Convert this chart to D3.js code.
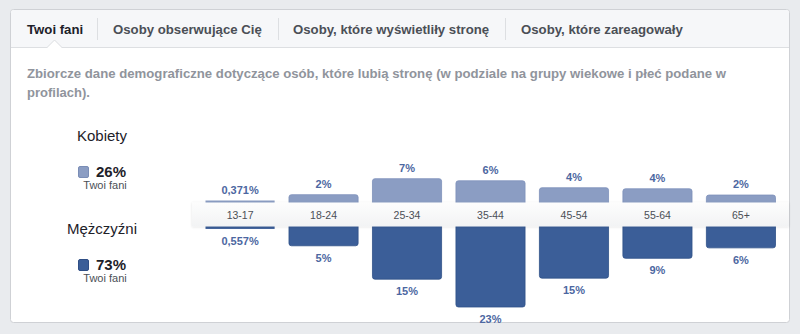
<!DOCTYPE html>
<html><head><meta charset="utf-8">
<script src="https://cdn.jsdelivr.net/npm/d3@7"></script>
<style>html,body{margin:0;padding:0;background:#e9ebee;}svg{display:block;font-family:"Liberation Sans",Arial,Helvetica,sans-serif;}</style>
</head><body><svg id="c" width="800" height="334"></svg>
<script>
const tabs = ["Twoi fani", "Osoby obserwujące Cię", "Osoby, które wyświetliły stronę", "Osoby, które zareagowały"];
const description = ["Zbiorcze dane demograficzne dotyczące osób, które lubią stronę (w podziale na grupy wiekowe i płeć podane w", "profilach)."];
const ageGroups = ["13-17", "18-24", "25-34", "35-44", "45-54", "55-64", "65+"];
const women = [0.371, 2.1, 6.7, 6.1, 4.1, 3.8, 2.0];
const men = [0.557, 5.4, 15.0, 23.0, 14.7, 9.0, 6.0];
const genderNames = ["Kobiety", "Mężczyźni"];
const genderTotals = ["26%", "73%"];
const legendSub = "Twoi fani";

const cWomen = "#8b9dc3", cMen = "#3b5e98", cLabel = "#4c67a1";
const svg = d3.select("#c");

// card
svg.append("rect").attr("x",10.5).attr("y",9.5).attr("width",779).attr("height",313).attr("rx",3)
  .attr("fill","#fff").attr("stroke","#cfd1d5");
svg.append("path").attr("d","M11,47 V12.5 Q11,10 13.5,10 H786.5 Q789,10 789,12.5 V47 Z").attr("fill","#f6f7f9");
svg.append("line").attr("x1",11).attr("x2",789).attr("y1",47.5).attr("y2",47.5).attr("stroke","#dddfe2");
// notch
svg.append("path").attr("d","M47,48 L54.5,40.5 L62,48 Z").attr("fill","#fff");
svg.append("path").attr("d","M47,47.5 L54.5,40 L62,47.5").attr("fill","none").attr("stroke","#dddfe2");

// tabs
const tabX = [27, 113, 293, 521];
const sepX = [97.5, 278.5, 505.5];
tabs.forEach((t,i)=>{
  svg.append("text").attr("x",tabX[i]).attr("y",33.5).text(t)
    .attr("font-size","13.2px").attr("font-weight","bold").attr("fill", i===0?"#1d2129":"#4b4f56");
});
sepX.forEach(x=>svg.append("line").attr("x1",x).attr("x2",x).attr("y1",18).attr("y2",40).attr("stroke","#dddfe2"));

// description
description.forEach((d,i)=>{
  const t = svg.append("text").attr("x",27).attr("y",78+i*18.5).text(d)
    .attr("font-size","13px").attr("font-weight","bold").attr("fill","#90949c");
  if(i===0) t.attr("textLength",699).attr("lengthAdjust","spacingAndGlyphs");
});

// legend
const legY = [0, 93];
genderNames.forEach((g,i)=>{
  const oy = legY[i];
  svg.append("text").attr("x",102).attr("y",141+oy).attr("text-anchor","middle").text(g)
    .attr("font-size","15px").attr("fill","#1d2129");
  svg.append("rect").attr("x",78.5).attr("y",166.5+oy).attr("width",10).attr("height",11).attr("rx",1.5)
    .attr("fill", i===0?cWomen:cMen).attr("stroke", i===0?"#7a8db6":"#2f4e85");
  svg.append("text").attr("x",96).attr("y",176.5+oy).text(genderTotals[i])
    .attr("font-size","15px").attr("font-weight","bold").attr("fill","#1d2129");
  svg.append("text").attr("x",105).attr("y",189+oy).attr("text-anchor","middle").text(legendSub)
    .attr("font-size","11px").attr("fill","#4b4f56");
});

// chart scales
const x = d3.scaleBand().domain(ageGroups).range([205,776]).paddingInner(0.16).paddingOuter(0);
const h = d3.scaleLinear().domain([0,23]).range([0,80]);
const stripTop = 202, stripBot = 227;
const fmt = v => v < 1 ? d3.format(".3f")(v).replace(".",",")+"%" : Math.round(v)+"%";
const vis = v => Math.max(1.5, h(v));

const data = ageGroups.map((a,i)=>({a, w:women[i], m:men[i]}));

// women bars
svg.append("g").selectAll("rect").data(data).join("rect")
  .attr("x",d=>x(d.a)+0.5).attr("width",x.bandwidth()-1)
  .attr("y",d=>stripTop-vis(d.w)).attr("height",d=>vis(d.w)+4).attr("rx",d=>d.w<1?0:2.5)
  .attr("fill",cWomen).attr("stroke",d=>d.w<1?"none":"#7d90ba").attr("stroke-width",0.8);
// men bars
svg.append("g").selectAll("rect").data(data).join("rect")
  .attr("x",d=>x(d.a)+0.5).attr("width",x.bandwidth()-1)
  .attr("y",stripBot-4).attr("height",d=>vis(d.m)+4).attr("rx",d=>d.m<1?0:2.5)
  .attr("fill",cMen).attr("stroke",d=>d.m<1?"none":"#2f5088").attr("stroke-width",0.8);

// strip
const defs = svg.append("defs");
const gr = defs.append("linearGradient").attr("id","sg").attr("x1",0).attr("x2",0).attr("y1",0).attr("y2",1);
gr.append("stop").attr("offset","0%").attr("stop-color","#fdfdfd");
gr.append("stop").attr("offset","100%").attr("stop-color","#f2f3f4");
const flt = defs.append("filter").attr("id","sh").attr("x","-5%").attr("y","-50%").attr("width","110%").attr("height","200%");
flt.append("feDropShadow").attr("dx",0).attr("dy",0.5).attr("stdDeviation",0.8).attr("flood-color","#000").attr("flood-opacity",0.12);
svg.append("rect").attr("x",192).attr("y",stripTop+0.5).attr("width",597).attr("height",stripBot-stripTop-1)
  .attr("fill","url(#sg)").attr("filter","url(#sh)");

// axis labels in strip
const axis = d3.axisBottom(x).tickSize(0).tickPadding(0);
const ag = svg.append("g").attr("transform",`translate(0,${(stripTop+stripBot)/2+4})`).call(axis);
ag.select(".domain").remove();
ag.selectAll("text").attr("dy",0).attr("font-size","10.5px").attr("fill","#4b4f56")
  .attr("font-family","'Liberation Sans',Arial,sans-serif");

// value labels
svg.append("g").selectAll("text").data(data).join("text")
  .attr("x",d=>x(d.a)+x.bandwidth()/2).attr("y",d=>stripTop-vis(d.w)-7)
  .attr("text-anchor","middle").attr("font-size","11px").attr("font-weight","bold").attr("fill",cLabel)
  .text(d=>fmt(d.w));
svg.append("g").selectAll("text").data(data).join("text")
  .attr("x",d=>x(d.a)+x.bandwidth()/2).attr("y",d=>stripBot+vis(d.m)+16)
  .attr("text-anchor","middle").attr("font-size","11px").attr("font-weight","bold").attr("fill",cLabel)
  .text(d=>fmt(d.m));
</script></body></html>
